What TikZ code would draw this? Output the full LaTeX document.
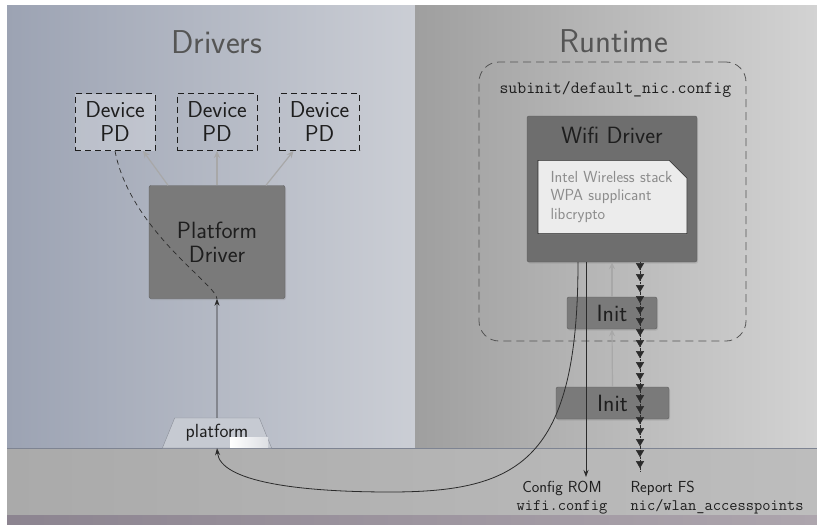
\documentclass[tikz,border=0pt]{standalone}
\usepackage{fontspec}
\usetikzlibrary{positioning,arrows.meta,shapes.geometric,shapes.misc,decorations.markings,shadows}

\definecolor{drvleft}{HTML}{9CA3B3}
\definecolor{drvright}{HTML}{CBCED5}
\definecolor{rtleft}{HTML}{9F9F9F}
\definecolor{rtright}{HTML}{D3D3D3}
\definecolor{floorleft}{HTML}{AAAAAA}
\definecolor{floorright}{HTML}{BDBDBD}
\definecolor{baseleft}{HTML}{8C8490}
\definecolor{baseright}{HTML}{ADA5AD}
\definecolor{floorline}{HTML}{7E8492}
\definecolor{titlegray}{HTML}{555555}
\definecolor{boxtext}{HTML}{1E1E1E}
\definecolor{boxfill}{HTML}{7A7A7A}
\definecolor{boxline}{HTML}{5E5E5E}
\definecolor{wififill}{HTML}{6E6E6E}
\definecolor{lightarrow}{HTML}{A8A8A8}
\definecolor{darkarrow}{HTML}{2B2B2B}
\definecolor{notefill}{HTML}{ECECEC}
\definecolor{notetext}{HTML}{8C8C8C}
\definecolor{platfill}{HTML}{C6CAD2}
\definecolor{platline}{HTML}{8A8E98}

\tikzset{
  paneltitle/.style={font=\sffamily\fontsize{33}{38}\selectfont, text=titlegray},
  devpd/.style={draw=boxtext, dashed, dash pattern=on 6pt off 4pt, line width=0.8pt,
    minimum width=80pt, minimum height=57pt, align=center, inner sep=0pt,
    font=\sffamily\fontsize{23}{24}\selectfont, text=boxtext},
  darkbox/.style={draw=boxline, fill=boxfill, rounded corners=2pt, align=center,
    font=\sffamily\fontsize{23.5}{24}\selectfont, text=boxtext, inner sep=0pt,
    drop shadow={shadow xshift=1pt, shadow yshift=-1.5pt, opacity=0.25}},
  softarrow/.style={draw=lightarrow, line width=1.2pt, -{Stealth[length=7pt,width=6pt]}},
  hardarrow/.style={draw=darkarrow, line width=0.8pt, -{Stealth[length=7pt,width=5pt]}},
  note/.style={chamfered rectangle, chamfered rectangle corners=north east,
    chamfered rectangle sep=9pt, draw=darkarrow, fill=notefill, line width=0.6pt,
    minimum width=149pt, minimum height=64pt, text width=124pt, inner xsep=3pt, inner ysep=2pt,
    align=left, font=\sffamily\fontsize{16}{18.5}\selectfont, text=notetext,
    drop shadow={shadow xshift=1pt, shadow yshift=-1.5pt, opacity=0.25}},
  platformbox/.style={trapezium, trapezium stretches=true, trapezium angle=62,
    minimum width=110pt, minimum height=30pt, draw=platline, fill=platfill,
    font=\sffamily\fontsize{19}{20}\selectfont, text=boxtext, inner sep=0pt},
  caption/.style={font=\sffamily\fontsize{16}{18}\selectfont, text=boxtext},
  reportchain/.style={draw=darkarrow, densely dotted, line width=0.4pt,
    postaction={decorate}, decoration={markings,
      mark=between positions 8pt and 1 step 11pt with {\arrow{Triangle[width=8pt,length=7pt]}}}}
}

\begin{document}
\begin{tikzpicture}[x=1pt, y=-1pt]
\useasboundingbox (0,0) rectangle (817,525);

% panels and floor
\shade[left color=drvleft, right color=drvright] (7,5) rectangle (415,448);
\shade[left color=rtleft, right color=rtright] (415,5) rectangle (817,448);
\shade[left color=floorleft, right color=floorright] (7,448) rectangle (817,515);
\shade[left color=baseleft, right color=baseright] (7,515) rectangle (817,525);
\draw[floorline, line width=0.8pt] (7,448) -- (817,448);

\node[paneltitle] (drivers) at (217,42) {Drivers};
\node[paneltitle] (runtime) at (614,41) {Runtime};

% drivers side
\node[devpd, fill=white, fill opacity=0.25, text opacity=1] (pd1) at (115,122) {Device\\PD};
\node[devpd] (pd2) at (217,122) {Device\\PD};
\node[devpd] (pd3) at (319.5,122) {Device\\PD};

\node[darkbox, minimum width=136pt, minimum height=113pt] (pdrv) at (217,242) {Platform\\Driver};

\draw[softarrow] ([xshift=-49pt]pdrv.north) -- ([xshift=28pt]pd1.south);
\draw[softarrow] (pdrv.north) -- (pd2.south);
\draw[softarrow] ([xshift=49pt]pdrv.north) -- ([xshift=-26pt]pd3.south);

\node[platformbox] (platform) at (217,433) {platform};
\fill[left color=white, right color=white!40!platfill] (230,437) rectangle (268,447);

\draw[hardarrow] (platform.north) -- (pdrv.south);
\draw[draw=darkarrow, line width=0.7pt, dash pattern=on 5pt off 4pt]
  (pd1.south) .. controls (130,230) and (217,285) .. (pdrv.south);

% runtime side
\node[draw=titlegray, dashed, dash pattern=on 8pt off 5pt, line width=0.8pt, rounded corners=20pt,
  minimum width=267pt, minimum height=279pt] (subinit) at (612.5,201.5) {};
\node[font=\ttfamily\fontsize{17.3}{20}\selectfont, text=boxtext, anchor=west] (subinitname) at (496,89) {subinit/default\_nic.config};

\node[darkbox, fill=wififill, minimum width=170pt, minimum height=146pt] (wifi) at (612,189) {};
\node[font=\sffamily\fontsize{23.5}{24}\selectfont, text=boxtext] (wifiname) at (612,135) {Wifi Driver};
\node[note] (stack) at (612.5,197) {Intel Wireless stack\\WPA supplicant\\libcrypto};

\node[darkbox, minimum width=90pt, minimum height=32pt] (init1) at (612,313) {Init};
\node[darkbox, minimum width=113pt, minimum height=32pt] (init2) at (612.5,403) {Init};

\draw[softarrow] (init2.north) -- (init1.south);
\draw[softarrow] (init1.north) -- (wifi.south);

\node[caption, align=center] (configrom) at (562,498) {Config ROM\\\texttt{wifi.config}};
\node[caption, align=left, anchor=west] (reportfs) at (627,498) {Report FS\\\texttt{nic/wlan\_accesspoints}};

\coordinate (romin) at (586,477);
\coordinate (fsin) at (640,472);
\draw[hardarrow] (wifi.south -| romin) -- (romin);
\draw[reportchain] (wifi.south -| fsin) -- (fsin);
\draw[hardarrow] ([xshift=-34pt]wifi.south) .. controls (578,460) and (520,492) .. (390,492)
  .. controls (300,492) and (220,482) .. (platform.south);
\end{tikzpicture}
\end{document}
